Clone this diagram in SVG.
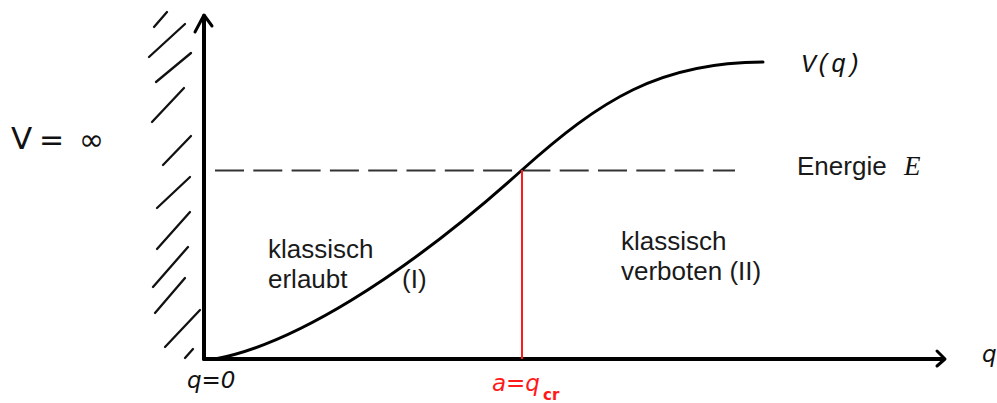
<svg xmlns="http://www.w3.org/2000/svg" width="997" height="403" viewBox="0 0 997 403">
<style>
.ax{stroke:#000;stroke-width:4;fill:none;stroke-linecap:round;stroke-linejoin:round}
.head{stroke:#000;stroke-width:3;fill:none;stroke-linecap:round;stroke-linejoin:round}
.hatch{stroke:#111;stroke-width:2.3;stroke-linecap:round}
.curve{stroke:#000;stroke-width:3;fill:none;stroke-linecap:round}
.dash{stroke:#333;stroke-width:2.2;stroke-dasharray:29 9.3;fill:none}
.red{stroke:#ff1a1a;stroke-width:2;fill:none}
.sans{font-family:"Liberation Sans",Arial,sans-serif;font-size:26px;fill:#1a1a1a}
.mono{font-family:"Liberation Mono","Courier New",monospace;font-style:italic;font-size:25px;fill:#111}
.hand{font-family:"DejaVu Sans",sans-serif;font-style:oblique;font-size:23px;fill:#111}
</style>

<g id="wall">
<line class="hatch" x1="154" y1="27" x2="167" y2="12"/>
<line class="hatch" x1="149" y1="57" x2="185" y2="24"/>
<line class="hatch" x1="156" y1="82" x2="191" y2="53"/>
<line class="hatch" x1="152" y1="122" x2="184" y2="88"/>
<line class="hatch" x1="163" y1="165" x2="191" y2="136"/>
<line class="hatch" x1="157" y1="208" x2="190" y2="177"/>
<line class="hatch" x1="157" y1="249" x2="190" y2="212"/>
<line class="hatch" x1="153" y1="287" x2="188" y2="247"/>
<line class="hatch" x1="155" y1="313" x2="185" y2="278"/>
<line class="hatch" x1="165" y1="347" x2="200" y2="310"/>
<line class="hatch" x1="185" y1="358" x2="193" y2="349"/>
</g>

<g id="axes">
<path class="ax" d="M204 359 L204 16"/>
<path class="head" d="M195 32 L204 15 L212 26"/>
<path class="ax" d="M204 359 L943 359"/>
<path class="head" d="M937 351 L945 359 L937 366"/>
</g>

<g id="energy-line">
<line class="dash" x1="215" y1="170.5" x2="735" y2="170.5"/>
</g>

<g id="potential">
<path class="curve" d="M215 359 C290 345 400 280 522 170 C600 100 660 62 763 62"/>
</g>

<g id="turning-point">
<line class="red" x1="522" y1="170" x2="522" y2="359"/>
</g>

<g id="labels">
<text x="11" y="149" font-family="DejaVu Sans,sans-serif" font-size="31" fill="#111">V</text>
<text x="39" y="150" font-family="DejaVu Sans,sans-serif" font-size="30" fill="#111">=</text>
<text x="79" y="150" font-family="DejaVu Sans,sans-serif" font-size="30" fill="#111">∞</text>
<text class="hand" x="187" y="388">q=0</text>
<text class="hand" x="492" y="391" style="fill:#ff1a1a">a=q</text>
<text x="543" y="400" font-family="DejaVu Sans,sans-serif" font-weight="bold" font-size="15" fill="#ff1a1a">cr</text>
<text class="hand" x="982" y="362">q</text>
<text class="mono" x="801" y="72">V(q)</text>
<text class="sans" x="797" y="175">Energie</text>
<text x="904" y="175" font-family="Liberation Serif,serif" font-style="italic" font-size="27" fill="#111">E</text>
<text class="sans" x="268" y="258">klassisch</text>
<text class="sans" x="268" y="288">erlaubt</text>
<text class="sans" x="402" y="288">(I)</text>
<text class="sans" x="621" y="250">klassisch</text>
<text class="sans" x="621" y="280">verboten (II)</text>
</g>
</svg>
